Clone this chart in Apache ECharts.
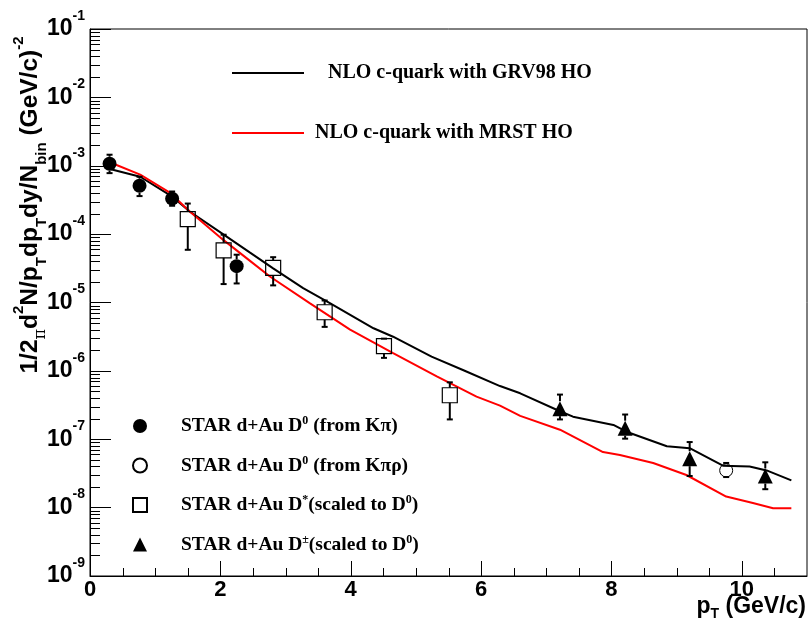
<!DOCTYPE html>
<html><head><meta charset="utf-8">
<script src="https://cdn.jsdelivr.net/npm/echarts@6/dist/echarts.min.js"></script>
<style>html,body{margin:0;padding:0;background:#fff}#c{width:810px;height:625px}</style>
</head><body><div id="c"></div>
<script>
// ---- curves (NLO c-quark) ----
const grv98X = [0.32, 0.77, 1.25, 1.53, 2.04, 2.45, 2.81, 3.27, 3.68, 4.35, 4.65, 5.24, 5.73, 6.29, 6.60, 7.21, 7.41, 8.03, 8.23, 8.85, 9.20, 9.71, 10.12, 10.38, 10.76];
const grv98Y = [8.9e-4, 6.9e-4, 3.6e-4, 2.14e-4, 1.0e-4, 5.4e-5, 3.16e-5, 1.62e-5, 9.8e-6, 4.2e-6, 3.16e-6, 1.62e-6, 1.02e-6, 6.0e-7, 4.7e-7, 2.57e-7, 2.14e-7, 1.62e-7, 1.29e-7, 7.9e-8, 7.4e-8, 4.1e-8, 4.0e-8, 3.5e-8, 2.5e-8];
const mrstX = [0.36, 0.77, 1.23, 1.53, 2.04, 2.45, 2.76, 3.37, 3.99, 4.65, 5.32, 5.93, 6.29, 6.60, 7.21, 7.87, 8.13, 8.64, 9.15, 9.76, 10.17, 10.48, 10.76];
const mrstY = [1.07e-3, 7.4e-4, 4.0e-4, 2.14e-4, 8.3e-5, 4.1e-5, 2.4e-5, 9.8e-6, 4.0e-6, 1.82e-6, 8.3e-7, 4.2e-7, 3.1e-7, 2.2e-7, 1.38e-7, 6.5e-8, 5.9e-8, 4.5e-8, 3.0e-8, 1.45e-8, 1.17e-8, 9.8e-9, 9.8e-9];

// ---- STAR d+Au data points: x, y, error low, error high ----
const kpiX  = [0.30, 0.76, 1.26, 2.25];
const kpiY  = [1.07e-3, 5.1e-4, 3.3e-4, 3.4e-5];
const kpiLo = [7.8e-4, 3.6e-4, 2.6e-4, 1.9e-5];
const kpiHi = [1.45e-3, 6.9e-4, 4.2e-4, 5.0e-5];

const kpirhoX  = [9.76];
const kpirhoY  = [3.5e-8];
const kpirhoLo = [2.8e-8];
const kpirhoHi = [4.5e-8];

const dstarX  = [1.50, 2.05, 2.81, 3.60, 4.51, 5.52];
const dstarY  = [1.66e-4, 5.8e-5, 3.2e-5, 7.2e-6, 2.3e-6, 4.4e-7];
const dstarLo = [5.9e-5, 1.86e-5, 1.78e-5, 4.4e-6, 1.55e-6, 1.95e-7];
const dstarHi = [2.8e-4, 9.8e-5, 4.6e-5, 1.07e-5, 2.95e-6, 6.8e-7];

const dpmX  = [7.21, 8.21, 9.20, 10.36];
const dpmY  = [2.8e-7, 1.45e-7, 5.2e-8, 2.9e-8];
const dpmLo = [1.95e-7, 1.02e-7, 2.9e-8, 1.86e-8];
const dpmHi = [4.5e-7, 2.3e-7, 9.1e-8, 4.6e-8];

// ---- names / texts ----
const nameGRV = 'NLO c-quark with GRV98 HO';
const nameMRST = 'NLO c-quark with MRST HO';
const nameKpi = 'STAR d+Au D0 (from Kπ)';
const nameKpirho = 'STAR d+Au D0 (from Kπρ)';
const nameDstar = 'STAR d+Au D*(scaled to D0)';
const nameDpm = 'STAR d+Au D±(scaled to D0)';
const legendRich = {};
legendRich[nameKpi] = '{f|STAR d+Au D}{s|0}{t| (from Kπ)}';
legendRich[nameKpirho] = '{f|STAR d+Au D}{s|0}{t| (from Kπρ)}';
legendRich[nameDstar] = '{f|STAR d+Au D}{s|*}{t|(scaled to D}{s|0}{t|)}';
legendRich[nameDpm] = '{f|STAR d+Au D}{s|±}{t|(scaled to D}{s|0}{t|)}';

// ---- axes / ticks ----
const xMin = 0, xMax = 11, xMajor = 2;
const xMajorTicks = [0, 2, 4, 6, 8, 10];
const xMinorTicks = [0.5, 1, 1.5, 2.5, 3, 3.5, 4.5, 5, 5.5, 6.5, 7, 7.5, 8.5, 9, 9.5, 10.5];
const yMin = 1e-9, yMax = 1e-1;
const yDecades = [-9, -8, -7, -6, -5, -4, -3, -2, -1];
const yMinorMult = [2, 3, 4, 5, 6, 7, 8, 9];
const yMinorTicks = [];
for (let i = 0; i < yDecades.length - 1; i++) for (const m of yMinorMult) yMinorTicks.push(m * Math.pow(10, yDecades[i]));

const zip = (x, y) => x.map((v, i) => [v, y[i]]);
const zip4 = (x, y, lo, hi) => x.map((v, i) => [v, y[i], lo[i], hi[i]]);

function errRender(half) {
  return function (params, api) {
    const x = api.value(0), y = api.value(1), lo = api.value(2), hi = api.value(3);
    const c = api.coord([x, y]), cl = api.coord([x, lo]), ch = api.coord([x, hi]);
    const st = { stroke: '#000', lineWidth: 2 };
    const ch2 = [];
    const yt = Math.min(ch[1], c[1] - half), yb = Math.max(cl[1], c[1] + half);
    if (ch[1] < c[1] - half) ch2.push({ type: 'line', shape: { x1: c[0], y1: c[1] - half, x2: c[0], y2: yt }, style: st });
    ch2.push({ type: 'line', shape: { x1: c[0] - 3, y1: yt, x2: c[0] + 3, y2: yt }, style: st });
    if (cl[1] > c[1] + half) ch2.push({ type: 'line', shape: { x1: c[0], y1: c[1] + half, x2: c[0], y2: yb }, style: st });
    ch2.push({ type: 'line', shape: { x1: c[0] - 3, y1: yb, x2: c[0] + 3, y2: yb }, style: st });
    return { type: 'group', children: ch2 };
  };
}
function errSeries(name, data, half) {
  return { type: 'custom', name: name + ' err', data: data, renderItem: errRender(half), encode: { x: 0, y: 1 }, z: 3, silent: true, clip: false };
}
function xTickSeries(vals, len) {
  return { type: 'custom', name: 'xticks' + len, data: vals.map(v => [v, yMin]), encode: { x: 0, y: 1 }, silent: true, clip: false, z: 5,
    renderItem: (params, api) => {
      const p = api.coord([api.value(0), api.value(1)]);
      const px = Math.round(p[0]) + 0.5;
      return { type: 'line', shape: { x1: px, y1: p[1], x2: px, y2: p[1] - len }, style: { stroke: '#000', lineWidth: 1 } };
    } };
}

const chart = echarts.init(document.getElementById('c'), null, { renderer: 'canvas' });
const labelFont = 'Liberation Sans';
const serif = 'Liberation Serif';
const lgFont1 = 20, lgFont2 = 19.5;
chart.setOption({
  animation: false,
  backgroundColor: '#fff',
  grid: { left: 90, right: 3, top: 29, bottom: 49, show: true, borderColor: '#000', borderWidth: 1, backgroundColor: 'transparent' },
  xAxis: { type: 'value', min: xMin, max: xMax, interval: xMajor, position: 'bottom',
      axisLine: { show: true, onZero: false, lineStyle: { color: '#000', width: 1 } },
      axisTick: { show: false },
      axisLabel: { color: '#000', fontFamily: labelFont, fontWeight: 'bold', fontSize: 22, margin: 3,
        formatter: v => (v > 10 ? '' : String(v)) },
      splitLine: { show: false } },
  yAxis: { type: 'log', logBase: 10, min: yMin, max: yMax, splitNumber: 8,
    axisLine: { lineStyle: { color: '#000', width: 1 } },
    axisTick: { show: true, inside: true, length: 21, lineStyle: { color: '#000', width: 1 } },
    axisLabel: { margin: 5, color: '#000',
      formatter: v => '{b|10}{s|' + Math.round(Math.log10(v)) + '}',
      rich: {
        b: { fontFamily: labelFont, fontWeight: 'bold', fontSize: 23, color: '#000', lineHeight: 40, verticalAlign: 'middle' },
        s: { fontFamily: labelFont, fontWeight: 'bold', fontSize: 14, color: '#000', lineHeight: 14, verticalAlign: 'top' }
      } },
    splitLine: { show: false } },
  legend: [
    { orient: 'vertical', left: 227, top: 58, itemWidth: 72, itemHeight: 2, itemGap: 40, selectedMode: false,
      icon: 'rect',
      data: [nameGRV, nameMRST],
      formatter: n => (n === nameGRV ? '{g|' + n + '}' : '{r|' + n + '}'),
      textStyle: { color: '#000', fontFamily: serif, fontWeight: 'bold', fontSize: lgFont1,
        rich: {
          g: { fontFamily: serif, fontWeight: 'bold', fontSize: lgFont1, color: '#000', padding: [0, 0, 0, 19], lineHeight: 22 },
          r: { fontFamily: serif, fontWeight: 'bold', fontSize: lgFont1, color: '#000', padding: [0, 0, 0, 6], lineHeight: 22 }
        } } },
    { orient: 'vertical', left: 127, top: 410, itemWidth: 14, itemHeight: 14, itemGap: 18.5, selectedMode: false,
      data: [nameKpi, nameKpirho, nameDstar, nameDpm],
      formatter: n => legendRich[n],
      textStyle: { color: '#000', fontFamily: serif, fontWeight: 'bold', fontSize: lgFont2,
        rich: {
          f: { fontFamily: serif, fontWeight: 'bold', fontSize: lgFont2, color: '#000', padding: [0, 0, 0, 29], lineHeight: 22, verticalAlign: 'middle' },
          t: { fontFamily: serif, fontWeight: 'bold', fontSize: lgFont2, color: '#000', lineHeight: 22, verticalAlign: 'middle' },
          s: { fontFamily: serif, fontWeight: 'bold', fontSize: 12, color: '#000', lineHeight: 12, verticalAlign: 'top' }
        } } }
  ],
  graphic: [
    { type: 'text', x: 30, y: 205, rotation: Math.PI / 2, silent: true,
      style: {
        text: '{a|1/2}{pi|π}{a|d}{sup|2}{a|N/p}{sub|T}{a|dp}{sub|T}{a|dy/N}{sub|bin}{a| (GeV/c)}{sup|-2}',
        align: 'center', verticalAlign: 'middle',
        rich: {
          a: { fontFamily: labelFont, fontWeight: 'bold', fontSize: 24.5, fill: '#000', lineHeight: 38 },
          pi: { fontFamily: 'DejaVu Serif', fontSize: 16, fill: '#000', lineHeight: 22, verticalAlign: 'bottom' },
          sup: { fontFamily: labelFont, fontWeight: 'bold', fontSize: 15, fill: '#000', lineHeight: 15, verticalAlign: 'top' },
          sub: { fontFamily: labelFont, fontWeight: 'bold', fontSize: 15, fill: '#000', lineHeight: 15, verticalAlign: 'bottom' }
        } } },
    { type: 'text', right: 4, top: 595, silent: true,
      style: {
        text: '{a|p}{sub|T}{a| (GeV/c)}',
        rich: {
          a: { fontFamily: labelFont, fontWeight: 'bold', fontSize: 23, fill: '#000', lineHeight: 30 },
          sub: { fontFamily: labelFont, fontWeight: 'bold', fontSize: 14, fill: '#000', lineHeight: 14, verticalAlign: 'bottom' }
        } } }
  ],
  series: [
    { type: 'custom', name: 'yminor', data: yMinorTicks.map(v => [xMin, v]), encode: { x: 0, y: 1 }, silent: true, clip: false, z: 1,
      renderItem: (params, api) => {
        const p = api.coord([api.value(0), api.value(1)]);
        const py = Math.round(p[1]) + 0.5;
        return { type: 'line', shape: { x1: p[0], y1: py, x2: p[0] + 10, y2: py }, style: { stroke: '#000', lineWidth: 1 } };
      } },
    xTickSeries(xMajorTicks, 15),
    xTickSeries(xMinorTicks, 8),
    { type: 'line', name: nameGRV, data: zip(grv98X, grv98Y), symbol: 'none', z: 2, color: '#000',
      lineStyle: { color: '#000', width: 2 }, emphasis: { disabled: true } },
    { type: 'line', name: nameMRST, data: zip(mrstX, mrstY), symbol: 'none', z: 2, color: '#f00',
      lineStyle: { color: '#f00', width: 2 }, emphasis: { disabled: true } },
    errSeries(nameKpi, zip4(kpiX, kpiY, kpiLo, kpiHi), 7),
    errSeries(nameKpirho, zip4(kpirhoX, kpirhoY, kpirhoLo, kpirhoHi), 6.5),
    errSeries(nameDstar, zip4(dstarX, dstarY, dstarLo, dstarHi), 7.5),
    errSeries(nameDpm, zip4(dpmX, dpmY, dpmLo, dpmHi), 7.5),
    { type: 'scatter', name: nameKpi, data: zip(kpiX, kpiY), symbol: 'circle', symbolSize: 14, z: 4,
      itemStyle: { color: '#000', opacity: 1 }, emphasis: { disabled: true } },
    { type: 'scatter', name: nameKpirho, data: zip(kpirhoX, kpirhoY), symbol: 'circle', symbolSize: 13, z: 4,
      itemStyle: { color: 'rgba(0,0,0,0)', borderColor: '#000', borderWidth: 1, opacity: 1 }, emphasis: { disabled: true } },
    { type: 'scatter', name: nameDstar, data: zip(dstarX, dstarY), symbol: 'rect', symbolSize: 15, z: 4,
      itemStyle: { color: 'rgba(0,0,0,0)', borderColor: '#000', borderWidth: 1.2, opacity: 1 }, emphasis: { disabled: true } },
    { type: 'scatter', name: nameDpm, data: zip(dpmX, dpmY), symbol: 'triangle', symbolSize: 15, z: 4,
      itemStyle: { color: '#000', opacity: 1 }, emphasis: { disabled: true } }
  ]
});
</script>
</body></html>
